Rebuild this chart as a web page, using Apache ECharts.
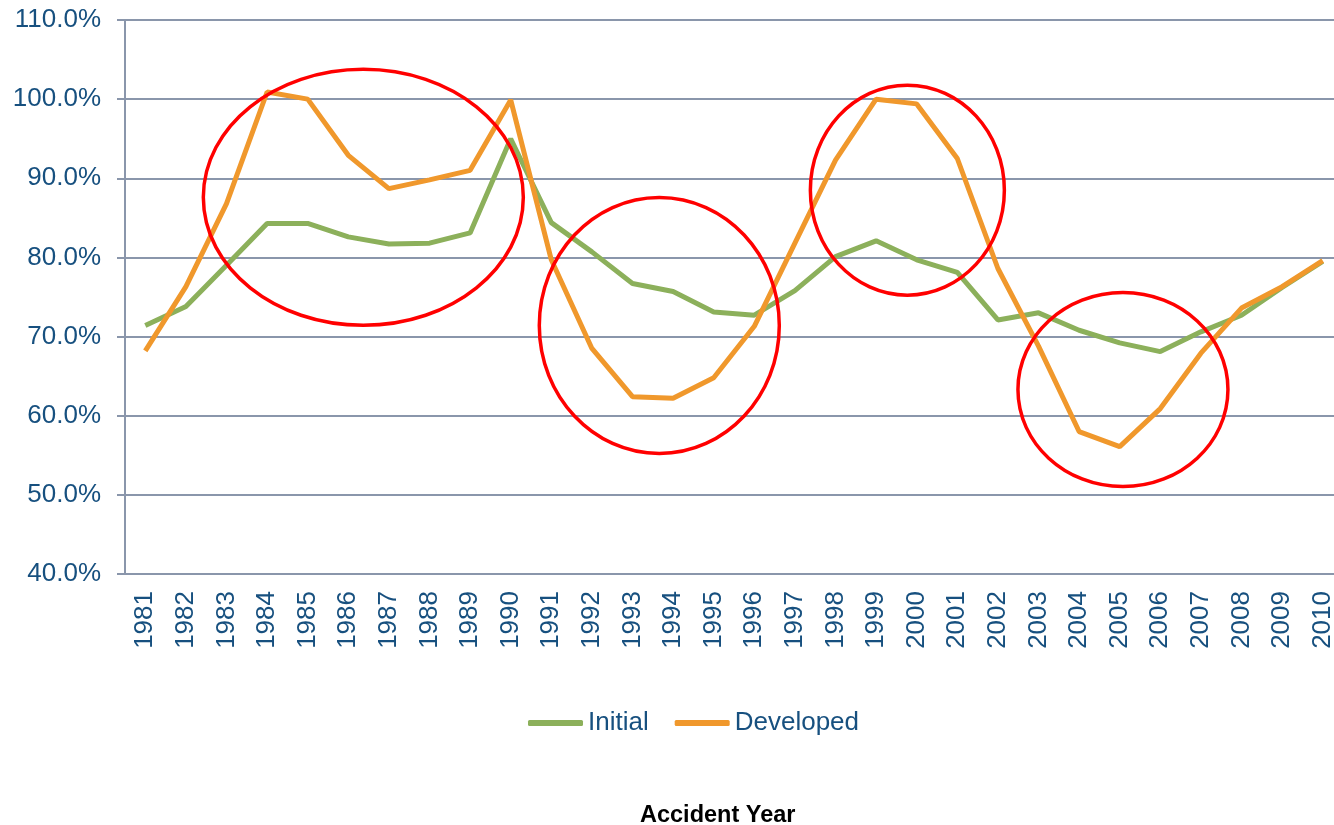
<!DOCTYPE html>
<html>
<head>
<meta charset="utf-8">
<script src="https://cdn.jsdelivr.net/npm/echarts@6/dist/echarts.min.js"></script>
<style>
  html, body { margin: 0; padding: 0; background: #fff; overflow: hidden; }
  #chart { width: 1350px; height: 825px; }
</style>
</head>
<body>
<div id="chart"></div>
<script>
var years = ['1981','1982','1983','1984','1985','1986','1987','1988','1989','1990',
             '1991','1992','1993','1994','1995','1996','1997','1998','1999','2000',
             '2001','2002','2003','2004','2005','2006','2007','2008','2009','2010'];

var initial = [71.4, 73.8, 79.0, 84.3, 84.3, 82.6, 81.7, 81.8, 83.1, 95.0,
               84.4, 80.7, 76.7, 75.7, 73.1, 72.7, 75.8, 80.1, 82.1, 79.7,
               78.1, 72.1, 73.0, 70.8, 69.2, 68.1, 70.6, 72.7, 76.2, 79.5];

var developed = [68.2, 76.3, 86.8, 100.9, 100.0, 92.9, 88.7, 89.8, 91.0, 99.9,
                 79.7, 68.5, 62.4, 62.2, 64.8, 71.3, 81.8, 92.3, 100.0, 99.4,
                 92.5, 78.6, 68.8, 58.0, 56.1, 60.9, 67.9, 73.6, 76.3, 79.6];

// red annotation rings: centre as [year index, value], radii in px
var rings = [
    { at: [5.37, 87.6], rx: 160, ry: 128 },
    { at: [12.66, 71.4], rx: 120, ry: 128 },
    { at: [18.77, 88.5], rx: 97, ry: 105 },
    { at: [24.08, 63.3], rx: 105, ry: 97 }
];

var blue = '#17507f';
var gridColor = '#8a96ab';

var chart = echarts.init(document.getElementById('chart'));

chart.setOption({
    animation: false,
    textStyle: { fontFamily: 'Liberation Sans, Arial, sans-serif' },
    title: {
        text: 'Accident Year',
        left: 635,
        top: 799,
        textStyle: { fontSize: 23.5, fontWeight: 'bold', color: '#000' }
    },
    legend: {
        left: 523,
        top: 705,
        itemWidth: 55,
        itemHeight: 6,
        itemGap: 26,
        icon: 'roundRect',
        textStyle: { fontSize: 26, color: blue },
        data: ['Initial', 'Developed']
    },
    grid: { left: 125, top: 20, width: 1218, height: 554 },
    xAxis: {
        type: 'category',
        data: years,
        axisLine: { lineStyle: { color: gridColor, width: 2 } },
        axisTick: { length: 8, lineStyle: { color: gridColor, width: 2 } },
        axisLabel: { rotate: 90, margin: 17, fontSize: 26, color: blue }
    },
    yAxis: {
        type: 'value',
        min: 40,
        max: 110,
        interval: 10,
        axisLine: { show: true, lineStyle: { color: gridColor, width: 2 } },
        axisTick: { show: true, length: 8, lineStyle: { color: gridColor, width: 2 } },
        axisLabel: {
            fontSize: 26, color: blue, margin: 24,
            formatter: function (v) { return v.toFixed(1) + '%'; }
        },
        splitLine: { lineStyle: { color: gridColor, width: 2 } }
    },
    series: [
        {
            name: 'Initial',
            type: 'line',
            data: initial,
            symbol: 'none',
            color: '#8cb05b',
            lineStyle: { width: 5, color: '#8cb05b' }
        },
        {
            name: 'Developed',
            type: 'line',
            data: developed,
            symbol: 'none',
            color: '#f0982c',
            lineStyle: { width: 5, color: '#f0982c' }
        }
    ]
});

function toPx(ix, v) {
    var i0 = Math.floor(ix);
    var a = chart.convertToPixel({ seriesIndex: 0 }, [i0, v]);
    var b = chart.convertToPixel({ seriesIndex: 0 }, [i0 + 1, v]);
    return [a[0] + (b[0] - a[0]) * (ix - i0), a[1]];
}

chart.setOption({
    graphic: rings.map(function (r) {
        var p = toPx(r.at[0], r.at[1]);
        return {
            type: 'ellipse',
            z: 100,
            shape: { cx: p[0], cy: p[1], rx: r.rx, ry: r.ry },
            style: { fill: null, stroke: '#ff0000', lineWidth: 3.5 }
        };
    })
});
</script>
</body>
</html>
